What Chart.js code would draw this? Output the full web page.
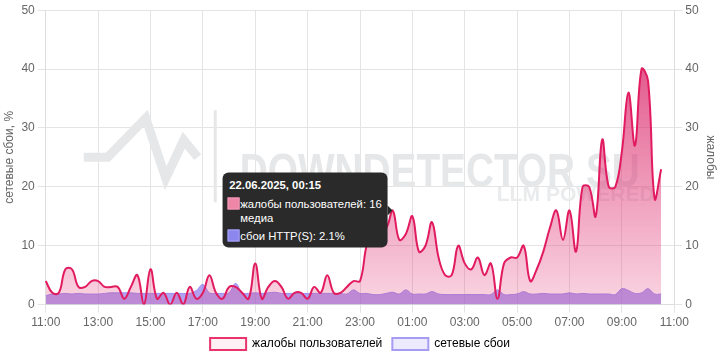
<!DOCTYPE html>
<html>
<head>
<meta charset="utf-8">
<script src="https://cdn.jsdelivr.net/npm/chart.js@4.4.1/dist/chart.umd.min.js"></script>
<style>
  html, body { margin: 0; background: #fff; }
  #wrap { position: relative; width: 720px; height: 360px; }
  #tip {
    position: absolute; display: none; transform: translate(-100%, -50%);
    background: rgb(42,42,42); color: #fff; border-radius: 6px;
    padding: 5px 6px 5px 5px; white-space: nowrap; pointer-events: none;
    font: 11.3px Arial, "Liberation Sans", sans-serif;
  }
  #tip .ttl { font-weight: bold; line-height: 14px; margin: 0 0 5px 2px; }
  #tip .row { line-height: 14px; }
  #tip .gap { margin-top: 4px; }
  #tip i { display: inline-block; box-sizing: border-box; width: 12px; height: 12px; border: 1px solid; vertical-align: -2px; margin-right: 1px; }
  #tip .pad { display: inline-block; width: 13px; }
  #tip::after {
    content: ''; position: absolute; left: 100%; top: 50%; margin-top: -5px;
    border: 5px solid transparent; border-left-color: rgb(42,42,42);
  }
</style>
</head>
<body>
<div id="wrap"><canvas id="chart"></canvas><div id="tip"></div></div>
<script>
// 15-minute steps, 21.06.2025 11:00 -> 22.06.2025 11:00
const DAYS = ['21.06.2025', '22.06.2025'];
const TIMES = [];
const STAMPS = [];
for (let i = 0; i <= 96; i++) {
  const m = 11 * 60 + i * 15;
  const hh = String(Math.floor((m % 1440) / 60)).padStart(2, '0');
  const mm = String(m % 60).padStart(2, '0');
  TIMES.push(hh + ':' + mm);
  STAMPS.push(DAYS[m >= 1440 ? 1 : 0] + ', ' + hh + ':' + mm);
}

const COMPLAINTS = [
  4, 2, 2, 6, 6, 3, 3, 4, 4, 3, 3, 3, 1, 3, 5, 0,
  6, 1, 2, 0, 2, 0, 3, 1, 2, 5, 2, 1, 3, 3, 2, 1,
  7, 1, 3, 4, 3, 1, 2, 2, 1, 3, 2, 5, 2, 2, 3, 4,
  4, 10, 13, 13, 13, 16, 11, 12, 15, 9, 10, 14, 8, 5, 5, 10,
  7, 6, 8, 5, 7, 1, 7, 8, 8, 10, 4, 6, 9, 13, 16, 11,
  16, 9, 20, 20, 15, 28, 20, 20, 26, 36, 27, 40, 38, 18, 23
];

const NET_FAILS = [
  1.5, 1.8, 1.8, 1.9, 1.8, 1.9, 1.8, 1.8, 1.8, 1.9, 2.0, 2.0, 2.0, 2.0, 1.9, 1.9,
  1.9, 1.9, 1.9, 1.9, 1.9, 1.9, 1.9, 2.4, 3.4, 2.0, 1.9, 1.9, 2.0, 3.6, 2.0, 1.9,
  2.0, 1.9, 2.0, 2.1, 1.9, 1.9, 1.9, 1.9, 1.9, 1.9, 1.9, 1.9, 1.9, 1.9, 1.8, 2.5,
  1.9, 1.9, 1.7, 1.7, 1.9, 2.1, 1.8, 2.5, 1.8, 1.8, 1.8, 2.2, 1.8, 1.7, 1.7, 1.7,
  1.7, 1.7, 1.7, 1.7, 1.7, 2.5, 1.7, 1.7, 1.8, 2.2, 1.8, 1.8, 1.9, 1.8, 1.8, 1.8,
  2.0, 1.8, 1.9, 1.8, 1.8, 1.8, 1.8, 1.7, 2.7, 2.4, 1.9, 2.0, 2.7, 1.8, 1.8
];

const Y_TICKS = [0, 10, 20, 30, 40, 50];
const TIP_INDEX = 53;

const RED = '#e21a5f';
const PURPLE = '#9a8cf2';

Chart.defaults.font.family = 'Arial, "Liberation Sans", sans-serif';
Chart.defaults.font.size = 12;
Chart.defaults.color = '#666';

function redFill(ctx) {
  const area = ctx.chart.chartArea;
  if (!area) return 'rgba(226,26,95,0.4)';
  const g = ctx.chart.ctx.createLinearGradient(0, area.top, 0, area.bottom);
  g.addColorStop(0, 'rgba(214,30,98,0.88)');
  g.addColorStop(1, 'rgba(228,60,120,0.22)');
  return g;
}

// text squeezed to a fixed width, like the brand logo
function fitText(c, text, x, y, width) {
  const w = c.measureText(text).width;
  c.save();
  c.translate(x, y);
  c.scale(width / w, 1);
  c.fillText(text, 0, 0);
  c.restore();
}

// faint brand mark behind the lines
const watermark = {
  id: 'watermark',
  beforeDatasetsDraw(chart) {
    const c = chart.ctx, a = chart.chartArea;
    const ox = a.left, oy = a.top;
    c.save();
    c.strokeStyle = '#e6e7e9';
    c.fillStyle = '#e6e7e9';
    c.lineWidth = 9;
    c.lineJoin = 'miter';
    c.beginPath();
    c.moveTo(ox + 38, oy + 147);
    c.lineTo(ox + 62, oy + 147);
    c.lineTo(ox + 100, oy + 108);
    c.lineTo(ox + 120, oy + 168);
    c.lineTo(ox + 138, oy + 130);
    c.lineTo(ox + 152, oy + 147);
    c.stroke();
    c.fillRect(ox + 168, oy + 100, 3, 92);
    c.font = 'bold 49px Arial, "Liberation Sans", sans-serif';
    fitText(c, 'DOWNDETECTOR SU', ox + 194, oy + 163, 400);
    c.fillStyle = '#eaebec';
    c.font = 'bold 21px Arial, "Liberation Sans", sans-serif';
    fitText(c, 'LLM POWERED', ox + 451, oy + 185, 158);
    c.restore();
  }
};

// tooltip as an html box over the canvas, so no line can end up above it
function htmlTooltip({ tooltip }) {
  const el = document.getElementById('tip');
  if (!tooltip.opacity) { el.style.display = 'none'; return; }
  const rows = [];
  tooltip.body.forEach((b, i) => {
    const c = tooltip.labelColors[i];
    b.lines.forEach((line, j) => {
      const head = j === 0
        ? `<i style="background:${c.backgroundColor};border-color:${c.borderColor}"></i>`
        : '<span class="pad"></span>';
      const cls = i > 0 && j === 0 ? 'row gap' : 'row';
      rows.push(`<div class="${cls}">${head}${line}</div>`);
    });
  });
  el.innerHTML = `<div class="ttl">${tooltip.title.join('')}</div>` + rows.join('');
  el.style.display = 'block';
  el.style.left = (tooltip.caretX - 5) + 'px';
  el.style.top = tooltip.caretY + 'px';
}

const chart = new Chart(document.getElementById('chart'), {
  type: 'line',
  data: {
    labels: TIMES,
    datasets: [
      {
        label: 'жалобы пользователей',
        data: COMPLAINTS,
        yAxisID: 'y1',
        borderColor: RED,
        backgroundColor: redFill,
        borderWidth: 2,
        fill: 'origin',
        tension: 0.4,
        pointRadius: 0,
        pointHoverRadius: 0,
      },
      {
        label: 'сетевые сбои',
        data: NET_FAILS,
        yAxisID: 'y',
        borderColor: PURPLE,
        backgroundColor: 'rgba(135,110,235,0.65)',
        borderWidth: 1,
        fill: 'origin',
        tension: 0.4,
        pointRadius: 0,
        pointHoverRadius: 0,
      },
    ],
  },
  options: {
    responsive: true,
    maintainAspectRatio: false,
    animation: false,
    events: [],
    layout: { padding: { top: 4 } },
    scales: {
      x: {
        grid: { color: '#e4e4e4' },
        border: { color: '#ddd' },
        afterFit: scale => { scale.height -= 5; },
        ticks: {
          autoSkip: false,
          maxRotation: 0,
          callback: (v, i) => (i % 8 === 0 ? TIMES[i] : null),
        },
      },
      y: {
        position: 'left',
        min: Y_TICKS[0],
        max: Y_TICKS[Y_TICKS.length - 1],
        ticks: { stepSize: 10 },
        grid: { color: '#e4e4e4' },
        border: { color: '#ddd' },
        title: { display: true, text: 'сетевые сбои, %', padding: 2 },
      },
      y1: {
        position: 'right',
        min: Y_TICKS[0],
        max: Y_TICKS[Y_TICKS.length - 1],
        ticks: { stepSize: 10 },
        grid: { color: '#e4e4e4', drawOnChartArea: false },
        border: { color: '#ddd' },
        title: { display: true, text: 'жалобы', padding: 2 },
      },
    },
    plugins: {
      legend: {
        position: 'bottom',
        labels: {
          boxWidth: 36,
          boxHeight: 12,
          generateLabels: () => [
            { text: 'жалобы пользователей', fillStyle: 'rgba(232,51,109,0.07)', strokeStyle: '#e8336d', lineWidth: 2, datasetIndex: 0 },
            { text: 'сетевые сбои', fillStyle: 'rgba(150,140,240,0.18)', strokeStyle: '#a69cf4', lineWidth: 2, datasetIndex: 1 },
          ],
        },
      },
      tooltip: {
        enabled: false,
        external: htmlTooltip,
        position: 'nearest',
        xAlign: 'right',
        yAlign: 'center',
        callbacks: {
          title: items => STAMPS[items[0].dataIndex],
          label: item => item.datasetIndex === 0
            ? ['жалобы пользователей: ' + item.raw, 'медиа']
            : 'сбои HTTP(S): ' + item.raw + '%',
          labelColor: item => item.datasetIndex === 0
            ? { borderColor: '#f39ab6', backgroundColor: '#ee86a8' }
            : { borderColor: '#a9a4f6', backgroundColor: '#8c86ef' },
        },
      },
    },
  },
  plugins: [watermark],
});

const tipPoint = chart.getDatasetMeta(0).data[TIP_INDEX];
chart.tooltip.setActiveElements(
  [{ datasetIndex: 0, index: TIP_INDEX }, { datasetIndex: 1, index: TIP_INDEX }],
  { x: tipPoint.x, y: tipPoint.y }
);
chart.update();
</script>
</body>
</html>
